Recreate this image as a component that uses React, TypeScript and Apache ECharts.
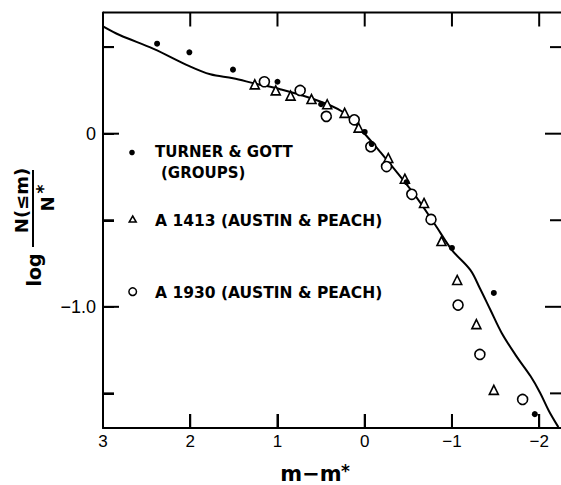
import React, { useEffect, useRef } from "react";
import * as echarts from "echarts";

// Data (x = m - m*, y = log N(<=m)/N*)
const curveData: [number, number][] = [
  [3.0, 0.62], [2.81, 0.57], [2.42, 0.49], [2.01, 0.39], [1.77, 0.343],
  [1.51, 0.32], [1.26, 0.29], [0.97, 0.257], [0.59, 0.2], [0.26, 0.128],
  [0.02, 0.01], [-0.18, -0.107], [-0.56, -0.345], [-0.8, -0.52],
  [-1.0, -0.672], [-1.21, -0.787], [-1.32, -0.893], [-1.44, -1.017],
  [-1.57, -1.151], [-1.74, -1.286], [-1.9, -1.4], [-2.01, -1.496],
  [-2.11, -1.6], [-2.22, -1.695],
];

const turnerGott: [number, number][] = [
  [2.38, 0.52], [2.01, 0.47], [1.51, 0.37], [1.0, 0.3], [0.5, 0.17],
  [0.0, 0.01], [-0.08, -0.06], [-0.48, -0.28], [-1.0, -0.66],
  [-1.48, -0.92], [-1.95, -1.62],
];

const a1413: [number, number][] = [
  [1.26, 0.285], [1.02, 0.25], [0.85, 0.22], [0.61, 0.2], [0.43, 0.17],
  [0.23, 0.12], [0.07, 0.035], [-0.27, -0.14], [-0.46, -0.26],
  [-0.68, -0.4], [-0.88, -0.62], [-1.06, -0.845], [-1.28, -1.1],
  [-1.48, -1.48],
];

const a1930: [number, number][] = [
  [1.15, 0.3], [0.74, 0.25], [0.44, 0.1], [0.12, 0.08], [-0.07, -0.075],
  [-0.25, -0.19], [-0.54, -0.35], [-0.76, -0.495], [-1.07, -0.99],
  [-1.32, -1.275], [-1.81, -1.535],
];

const xLabelValues = [3, 2, 1, 0, -1, -2];
const xTickValues = [2, 1, 0, -1, -2];
const yTickValues = [0.5, 0, -0.5, -1, -1.5];
const yLabelValues = [0, -1];
const legendLabels = [
  "TURNER & GOTT",
  "(GROUPS)",
  "A 1413 (AUSTIN & PEACH)",
  "A 1930 (AUSTIN & PEACH)",
];

const X_MIN = -2.25;
const X_MAX = 3;
const Y_MIN = -1.7;
const Y_MAX = 0.7;

const BLACK = "#000";
const TICK_FONT = "'Liberation Sans', Arial, sans-serif";
const BOLD_FONT = "'DejaVu Sans', sans-serif";

const fmtX = (v: number) => (v < 0 ? "\u2212" + Math.abs(v) : String(v));
const fmtY = (v: number) => (v === 0 ? "0" : "\u2212" + Math.abs(v).toFixed(1));

// tick marks: [x, y, length, direction] ; direction 0=right,1=left,2=up,3=down
function buildTicks(): number[][] {
  const out: number[][] = [];
  yTickValues.forEach((v) => {
    const len = yLabelValues.includes(v) ? 16 : 11;
    out.push([X_MAX, v, len, 0]);
    out.push([X_MIN, v, len, 1]);
  });
  xTickValues.forEach((v) => {
    out.push([v, Y_MIN, 14, 2]);
    out.push([v, Y_MAX, 14, 3]);
  });
  return out;
}

export default function App() {
  const ref = useRef<HTMLDivElement>(null);

  useEffect(() => {
    if (!ref.current) return;
    const chart = echarts.init(ref.current, undefined, { renderer: "svg" });

    const option: any = {
      animation: false,
      grid: { left: 103, top: 12.5, width: 458, height: 415.5 },
      xAxis: {
        type: "value",
        min: X_MIN,
        max: X_MAX,
        inverse: true,
        position: "bottom",
        splitLine: { show: false },
        axisLine: { show: true, onZero: false, lineStyle: { color: BLACK, width: 2 } },
        axisTick: {
          show: true,
          inside: true,
          length: 14,
          customValues: xTickValues,
          lineStyle: { color: BLACK, width: 2 },
        },
        axisLabel: {
          customValues: xLabelValues,
          formatter: fmtX,
          margin: 5,
          color: BLACK,
          fontSize: 17,
          fontFamily: TICK_FONT,
        },
      },
      yAxis: {
        type: "value",
        min: Y_MIN,
        max: Y_MAX,
        position: "left",
        splitLine: { show: false },
        axisLine: { show: true, onZero: false, lineStyle: { color: BLACK, width: 2 } },
        axisTick: {
          show: true,
          inside: true,
          length: 11,
          customValues: yTickValues,
          lineStyle: { color: BLACK, width: 2 },
        },
        axisLabel: {
          customValues: yLabelValues,
          formatter: fmtY,
          margin: 7,
          color: BLACK,
          fontSize: 18,
          fontFamily: TICK_FONT,
        },
      },
      series: [
        {
          type: "line",
          data: curveData,
          smooth: 0.35,
          showSymbol: false,
          lineStyle: { color: BLACK, width: 2 },
        },
        {
          name: legendLabels[0],
          type: "scatter",
          data: turnerGott,
          symbol: "circle",
          symbolSize: 6,
          itemStyle: { color: BLACK, opacity: 1 },
          z: 4,
        },
        {
          name: legendLabels[2],
          type: "scatter",
          data: a1413,
          symbol: "triangle",
          symbolSize: 9,
          itemStyle: { color: "#fff", borderColor: BLACK, borderWidth: 1.6, opacity: 1 },
          z: 3,
        },
        {
          name: legendLabels[3],
          type: "scatter",
          data: a1930,
          symbol: "circle",
          symbolSize: 10,
          itemStyle: { color: "#fff", borderColor: BLACK, borderWidth: 1.6, opacity: 1 },
          z: 3,
        },
        {
          type: "custom",
          data: buildTicks(),
          clip: false,
          z: 5,
          renderItem: (params: any, api: any) => {
            const p = api.coord([api.value(0), api.value(1)]);
            const len = api.value(2);
            const dir = api.value(3);
            let x2 = p[0];
            let y2 = p[1];
            if (dir === 0) x2 += len;
            else if (dir === 1) x2 -= len;
            else if (dir === 2) y2 -= len;
            else y2 += len;
            return {
              type: "line",
              shape: { x1: p[0], y1: p[1], x2, y2 },
              style: { stroke: BLACK, lineWidth: 2 },
            };
          },
        },
        {
          type: "custom",
          data: [[X_MAX, Y_MAX, X_MIN, Y_MAX]],
          clip: false,
          z: 5,
          renderItem: (params: any, api: any) => {
            const a = api.coord([api.value(0), api.value(1)]);
            const b = api.coord([api.value(2), api.value(3)]);
            return {
              type: "line",
              shape: { x1: a[0], y1: a[1], x2: b[0], y2: b[1] },
              style: { stroke: BLACK, lineWidth: 2 },
            };
          },
        },
      ],
      graphic: [
        // legend
        { type: "circle", shape: { cx: 132, cy: 152.5, r: 2.8 }, style: { fill: BLACK } },
        {
          type: "text", x: 155, y: 152,
          style: { text: legendLabels[0], fill: BLACK, font: `bold 15px ${BOLD_FONT}`, verticalAlign: "middle" },
        },
        {
          type: "text", x: 161, y: 173,
          style: { text: legendLabels[1], fill: BLACK, font: `bold 15px ${BOLD_FONT}`, verticalAlign: "middle" },
        },
        {
          type: "polygon",
          shape: { points: [[132.7, 216], [136.2, 222], [129.2, 222]] },
          style: { fill: "#fff", stroke: BLACK, lineWidth: 1.5 },
        },
        {
          type: "text", x: 155, y: 221,
          style: { text: legendLabels[2], fill: BLACK, font: `bold 15.5px ${BOLD_FONT}`, verticalAlign: "middle" },
        },
        { type: "circle", shape: { cx: 132.7, cy: 291.7, r: 3.8 }, style: { fill: "#fff", stroke: BLACK, lineWidth: 1.5 } },
        {
          type: "text", x: 155, y: 292.5,
          style: { text: legendLabels[3], fill: BLACK, font: `bold 15.5px ${BOLD_FONT}`, verticalAlign: "middle" },
        },
        // x axis title
        {
          type: "text", x: 311, y: 474,
          style: { text: "m\u2212m", align: "center", verticalAlign: "middle", fill: BLACK, font: `bold 21px ${BOLD_FONT}` },
        },
        {
          type: "text", x: 341, y: 462,
          style: { text: "*", align: "left", verticalAlign: "top", fill: BLACK, font: `bold 17px ${BOLD_FONT}` },
        },
        // y axis title (rotated)
        {
          type: "group",
          x: 33,
          y: 210,
          rotation: Math.PI / 2,
          children: [
            {
              type: "text", x: 9.5, y: -12,
              style: { text: "N(\u2264m)", align: "center", verticalAlign: "middle", fill: BLACK, font: `bold 18px ${BOLD_FONT}` },
            },
            {
              type: "line",
              shape: { x1: -37, y1: 0, x2: 40, y2: 0 },
              style: { stroke: BLACK, lineWidth: 2 },
            },
            {
              type: "text", x: 6, y: 14,
              style: { text: "N", align: "center", verticalAlign: "middle", fill: BLACK, font: `bold 18px ${BOLD_FONT}` },
            },
            {
              type: "text", x: 21, y: 10,
              style: { text: "*", align: "center", verticalAlign: "middle", fill: BLACK, font: `bold 17px ${BOLD_FONT}` },
            },
            {
              type: "text", x: -60, y: 1,
              style: { text: "log", align: "center", verticalAlign: "middle", fill: BLACK, font: `bold 19px ${BOLD_FONT}` },
            },
          ],
        },
      ],
    };

    chart.setOption(option);
    return () => chart.dispose();
  }, []);

  return (
    <div
      ref={ref}
      style={{ position: "absolute", left: 0, top: 0, width: 561, height: 485, background: "#fff" }}
    />
  );
}
